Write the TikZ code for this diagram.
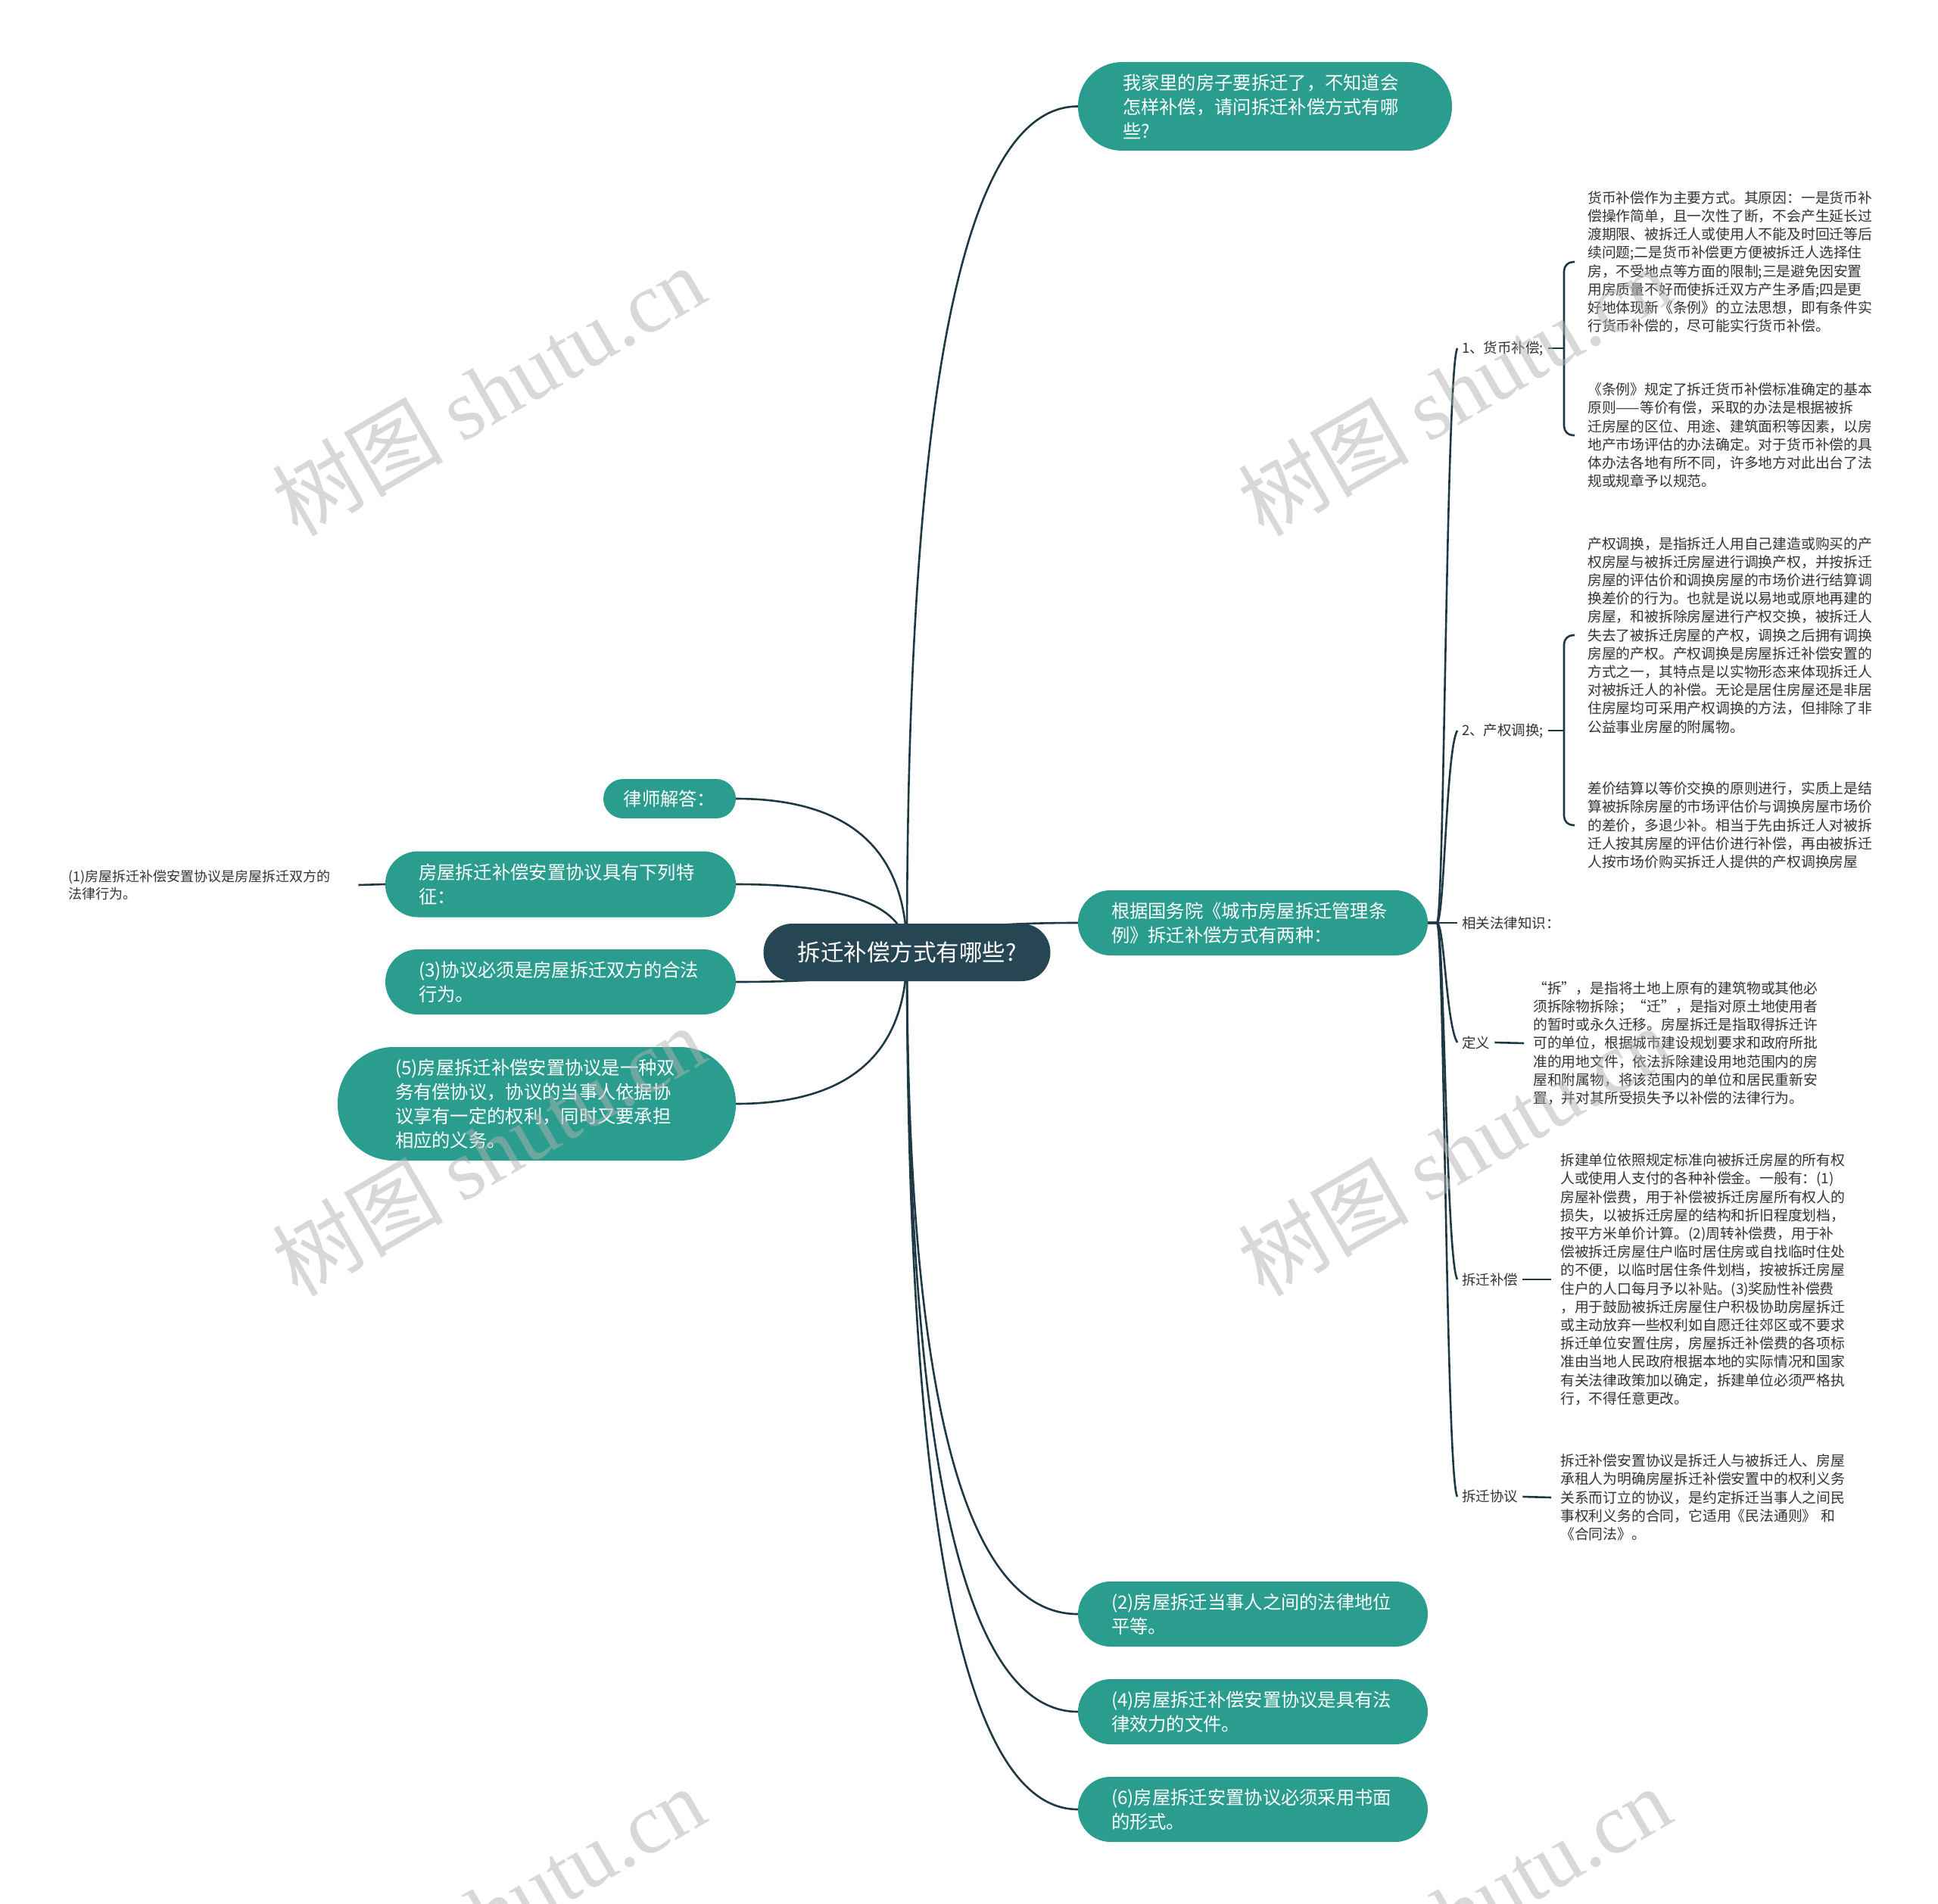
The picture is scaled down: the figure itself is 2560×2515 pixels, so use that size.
\documentclass[tikz,border=0pt]{standalone}
\usepackage{fontspec}
\setmainfont{Noto Sans CJK SC}
\newfontfamily\wmlatin{Liberation Serif}
\pgfdeclarelayer{bg}
\pgfsetlayers{bg,main}
\definecolor{tealc}{RGB}{42,157,143}
\definecolor{darkc}{RGB}{38,70,83}
\definecolor{linec}{RGB}{30,56,68}
\definecolor{txtc}{RGB}{51,51,51}
\definecolor{wmc}{RGB}{178,178,178}
\begin{document}
\begin{tikzpicture}[x=1pt,y=-1pt,
 conn/.style={draw=linec, line width=2.6pt},
 tbox/.style={rectangle, fill=tealc, text=white, inner sep=0pt, align=left, font=\fontsize{24.3pt}{32pt}\selectfont},
 small/.style={text=txtc, align=left, anchor=west, inner ysep=0pt, font=\fontsize{18.8pt}{24.2pt}\selectfont},
 lab/.style={text=txtc, anchor=west, inner xsep=6pt, inner ysep=2pt, font=\fontsize{18.5pt}{22pt}\selectfont},
 wm/.style={text=wmc, text opacity=0.5, rotate=30, inner sep=0pt, font=\fontsize{113pt}{120pt}\selectfont}]
\useasboundingbox (0,0) rectangle (2560,2515);

% central topic
\node[rectangle, fill=darkc, text=white, rounded corners=38pt, minimum width=379pt, minimum height=76pt, inner sep=0pt, font=\fontsize{30.5pt}{36pt}\selectfont] (c) at (1198,1258) {拆迁补偿方式有哪些?};

% right main topics
\node[tbox, rounded corners=58pt, minimum width=494pt, minimum height=117pt, text width=376pt] (q) at (1671,140.5) {我家里的房子要拆迁了，不知道会\\怎样补偿，请问拆迁补偿方式有哪\\些?};
\node[tbox, rounded corners=43pt, minimum width=462pt, minimum height=86pt, text width=374pt] (r) at (1655,1219) {根据国务院《城市房屋拆迁管理条\\例》拆迁补偿方式有两种：};
\node[tbox, rounded corners=43pt, minimum width=462pt, minimum height=86pt, text width=374pt] (n2) at (1655,2132) {(2)房屋拆迁当事人之间的法律地位\\平等。};
\node[tbox, rounded corners=43pt, minimum width=462pt, minimum height=86pt, text width=374pt] (n4) at (1655,2261) {(4)房屋拆迁补偿安置协议是具有法\\律效力的文件。};
\node[tbox, rounded corners=43pt, minimum width=462pt, minimum height=86pt, text width=374pt] (n6) at (1655,2390) {(6)房屋拆迁安置协议必须采用书面\\的形式。};

% left main topics
\node[tbox, rounded corners=26pt, minimum width=175pt, minimum height=52pt, align=center] (law) at (884.5,1055) {律师解答：};
\node[tbox, rounded corners=43pt, minimum width=463pt, minimum height=87pt, text width=375pt] (feat) at (740.5,1168) {房屋拆迁补偿安置协议具有下列特\\征：};
\node[tbox, rounded corners=43pt, minimum width=463pt, minimum height=86pt, text width=375pt] (n3) at (740.5,1297) {(3)协议必须是房屋拆迁双方的合法\\行为。};
\node[tbox, rounded corners=74pt, minimum width=526pt, minimum height=150pt, text width=374pt] (n5) at (709,1458) {(5)房屋拆迁补偿安置协议是一种双\\务有偿协议，协议的当事人依据协\\议享有一定的权利，同时又要承担\\相应的义务。};

\node[small, inner xsep=8pt, text width=375pt, font=\fontsize{18pt}{23pt}\selectfont] (p1) at (82,1169) {(1)房屋拆迁补偿安置协议是房屋拆迁双方的\\法律行为。};

% right subtopic labels
\node[lab] (l1) at (1925,460) {1、货币补偿;};
\node[lab] (l2) at (1925,965) {2、产权调换;};
\node[lab] (l3) at (1925,1219) {相关法律知识：};
\node[lab] (l4) at (1925,1377) {定义};
\node[lab] (l5) at (1925,1690) {拆迁补偿};
\node[lab] (l6) at (1925,1977) {拆迁协议};

% right text blocks
\node[small, inner xsep=17pt, text width=380pt] (ta) at (2080,346) {货币补偿作为主要方式。其原因：一是货币补\\
偿操作简单，且一次性了断，不会产生延长过\\
渡期限、被拆迁人或使用人不能及时回迁等后\\
续问题;二是货币补偿更方便被拆迁人选择住\\
房，不受地点等方面的限制;三是避免因安置\\
用房质量不好而使拆迁双方产生矛盾;四是更\\
好地体现新《条例》的立法思想，即有条件实\\
行货币补偿的，尽可能实行货币补偿。};
\node[small, inner xsep=17pt, text width=380pt] (tb) at (2080,575) {《条例》规定了拆迁货币补偿标准确定的基本\\
原则——等价有偿，采取的办法是根据被拆\\
迁房屋的区位、用途、建筑面积等因素，以房\\
地产市场评估的办法确定。对于货币补偿的具\\
体办法各地有所不同，许多地方对此出台了法\\
规或规章予以规范。};
\node[small, inner xsep=17pt, text width=380pt] (tc) at (2080,839) {产权调换，是指拆迁人用自己建造或购买的产\\
权房屋与被拆迁房屋进行调换产权，并按拆迁\\
房屋的评估价和调换房屋的市场价进行结算调\\
换差价的行为。也就是说以易地或原地再建的\\
房屋，和被拆除房屋进行产权交换，被拆迁人\\
失去了被拆迁房屋的产权，调换之后拥有调换\\
房屋的产权。产权调换是房屋拆迁补偿安置的\\
方式之一，其特点是以实物形态来体现拆迁人\\
对被拆迁人的补偿。无论是居住房屋还是非居\\
住房屋均可采用产权调换的方法，但排除了非\\
公益事业房屋的附属物。};
\node[small, inner xsep=17pt, text width=380pt] (td) at (2080,1090) {差价结算以等价交换的原则进行，实质上是结\\
算被拆除房屋的市场评估价与调换房屋市场价\\
的差价，多退少补。相当于先由拆迁人对被拆\\
迁人按其房屋的评估价进行补偿，再由被拆迁\\
人按市场价购买拆迁人提供的产权调换房屋};
\node[small, inner xsep=12pt, text width=380pt] (te) at (2013,1378) {“拆”，是指将土地上原有的建筑物或其他必\\
须拆除物拆除；“迁”，是指对原土地使用者\\
的暂时或永久迁移。房屋拆迁是指取得拆迁许\\
可的单位，根据城市建设规划要求和政府所批\\
准的用地文件，依法拆除建设用地范围内的房\\
屋和附属物，将该范围内的单位和居民重新安\\
置，并对其所受损失予以补偿的法律行为。};
\node[small, inner xsep=12pt, text width=380pt] (tf) at (2049,1690) {拆建单位依照规定标准向被拆迁房屋的所有权\\
人或使用人支付的各种补偿金。一般有：(1)\\
房屋补偿费，用于补偿被拆迁房屋所有权人的\\
损失，以被拆迁房屋的结构和折旧程度划档，\\
按平方米单价计算。(2)周转补偿费，用于补\\
偿被拆迁房屋住户临时居住房或自找临时住处\\
的不便，以临时居住条件划档，按被拆迁房屋\\
住户的人口每月予以补贴。(3)奖励性补偿费\\
，用于鼓励被拆迁房屋住户积极协助房屋拆迁\\
或主动放弃一些权利如自愿迁往郊区或不要求\\
拆迁单位安置住房，房屋拆迁补偿费的各项标\\
准由当地人民政府根据本地的实际情况和国家\\
有关法律政策加以确定，拆建单位必须严格执\\
行，不得任意更改。};
\node[small, inner xsep=12pt, text width=380pt] (tg) at (2049,1978) {拆迁补偿安置协议是拆迁人与被拆迁人、房屋\\
承租人为明确房屋拆迁补偿安置中的权利义务\\
关系而订立的协议，是约定拆迁当事人之间民\\
事权利义务的合同，它适用《民法通则》 和\\
《合同法》。};

\begin{pgfonlayer}{bg}
\fill[white] (0,0) rectangle (2560,2515);
% central connectors
\draw[conn] (c.center) .. controls (1198,513) and (1273,140.5) .. (q.west);
\draw[conn] (c.center) .. controls (1198,1232) and (1273,1219) .. (r.west);
\draw[conn] (c.center) .. controls (1198,1841) and (1273,2132) .. (n2.west);
\draw[conn] (c.center) .. controls (1198,1926) and (1273,2261) .. (n4.west);
\draw[conn] (c.center) .. controls (1198,2013) and (1273,2390) .. (n6.west);
\draw[conn] (c.center) .. controls (1198,1123) and (1123,1055) .. (law.east);
\draw[conn] (c.center) .. controls (1198,1198) and (1123,1168) .. (feat.east);
\draw[conn] (c.center) .. controls (1198,1284) and (1123,1297) .. (n3.east);
\draw[conn] (c.center) .. controls (1198,1391) and (1123,1458) .. (n5.east);
\draw[conn] (p1.east) -- (feat.west);
% right spine
\draw[conn] (r.east) -- (1898,1219) .. controls (1908,1219) and (1910,490) .. (l1.west);
\draw[conn] (r.east) -- (1898,1219) .. controls (1908,1219) and (1910,990) .. (l2.west);
\draw[conn] (r.east) -- (l3.west);
\draw[conn] (r.east) -- (1898,1219) .. controls (1908,1219) and (1910,1352) .. (l4.west);
\draw[conn] (r.east) -- (1898,1219) .. controls (1908,1219) and (1910,1665) .. (l5.west);
\draw[conn] (r.east) -- (1898,1219) .. controls (1908,1219) and (1910,1952) .. (l6.west);
% brackets
\draw[conn, rounded corners=12pt] (ta.west) -- (2066,346) -- (2066,575) -- (tb.west);
\draw[conn] (l1.east) -- (2066,460);
\draw[conn, rounded corners=12pt] (tc.west) -- (2066,839) -- (2066,1090) -- (td.west);
\draw[conn] (l2.east) -- (2066,965);
\draw[conn] (l4.east) -- (te.west);
\draw[conn] (l5.east) -- (tf.west);
\draw[conn] (l6.east) -- (tg.west);
\end{pgfonlayer}

% watermarks
\node[wm] (wm1) at (645,516) {树图 {\wmlatin shutu.cn}};
\node[wm] (wm2) at (1921,516) {树图 {\wmlatin shutu.cn}};
\node[wm] (wm3) at (645,1520) {树图 {\wmlatin shutu.cn}};
\node[wm] (wm4) at (1921,1520) {树图 {\wmlatin shutu.cn}};
\node[wm] (wm5) at (645,2525) {树图 {\wmlatin shutu.cn}};
\node[wm] (wm6) at (1921,2525) {树图 {\wmlatin shutu.cn}};
\end{tikzpicture}
\end{document}
